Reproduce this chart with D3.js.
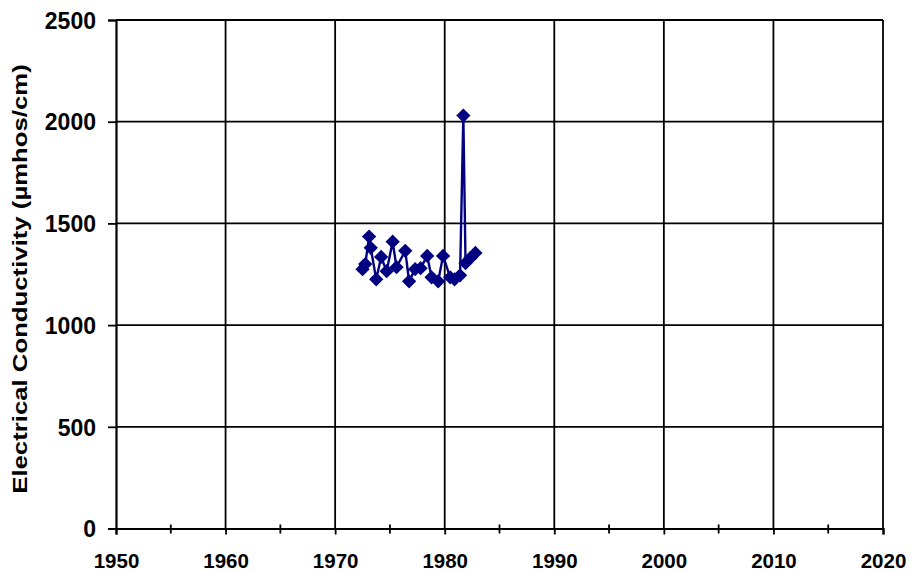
<!DOCTYPE html>
<html>
<head>
<meta charset="utf-8">
<script src="https://cdn.jsdelivr.net/npm/d3@7"></script>
<style>
  html, body { margin: 0; padding: 0; background: #fff; }
  svg text { font-family: Arial, "Liberation Sans", sans-serif; font-weight: bold; fill: #000; }
</style>
</head>
<body>
<svg id="chart" width="911" height="571"></svg>
<script>
// Sample dates (decimal years) and electrical conductivity readings
const years = [1972.5, 1972.75, 1973.1, 1973.25, 1973.75, 1974.2, 1974.7, 1975.25, 1975.6,
  1976.4, 1976.75, 1977.3, 1977.8, 1978.4, 1978.8, 1979.4, 1979.85, 1980.5, 1980.9,
  1981.4, 1981.7, 1981.9, 1982.35, 1982.8];
const conductivity = [1275, 1300, 1435, 1380, 1225, 1335, 1265, 1410, 1285,
  1365, 1215, 1275, 1280, 1340, 1235, 1215, 1340, 1235, 1225,
  1245, 2030, 1305, 1330, 1355];
const xTicks = [1950, 1960, 1970, 1980, 1990, 2000, 2010, 2020];
const xMinorTicks = [1955, 1965, 1975, 1985, 1995, 2005, 2015];
const yTicks = [0, 500, 1000, 1500, 2000, 2500];
const yLabel = "Electrical Conductivity (µmhos/cm)";

const data = years.map((y, i) => ({ year: y, value: conductivity[i] }));

const svg = d3.select("#chart");
const plotLeft = 116, plotRight = 883, plotTop = 20, plotBottom = 528.5;

const x = d3.scaleLinear().domain([1950, 2020]).range([plotLeft, plotRight]);
const y = d3.scaleLinear().domain([0, 2500]).range([plotBottom, plotTop]);

// Gridlines
svg.append("g").selectAll("line").data(yTicks.filter(d => d > 0)).join("line")
  .attr("x1", plotLeft).attr("x2", plotRight)
  .attr("y1", d => y(d)).attr("y2", d => y(d))
  .attr("stroke", "#000").attr("stroke-width", 1.8);
svg.append("g").selectAll("line").data(xTicks.filter(d => d > 1950)).join("line")
  .attr("x1", d => x(d)).attr("x2", d => x(d))
  .attr("y1", plotTop).attr("y2", plotBottom)
  .attr("stroke", "#000").attr("stroke-width", 1.8);

// Y axis
const yAxis = svg.append("g").attr("transform", `translate(${plotLeft},0)`)
  .call(d3.axisLeft(y).tickValues(yTicks).tickSize(8).tickPadding(12).tickFormat(d3.format("d")));
yAxis.select(".domain").attr("stroke", "#000").attr("stroke-width", 2.2);
yAxis.selectAll(".tick line").attr("stroke", "#000").attr("stroke-width", 1.8);
yAxis.selectAll(".tick text").style("font-size", "23px").attr("dy", "0.36em");

// X axis
const xAxis = svg.append("g").attr("transform", `translate(0,${plotBottom})`)
  .call(d3.axisBottom(x).tickValues(xTicks).tickSize(6).tickPadding(19).tickFormat(d3.format("d")));
xAxis.select(".domain").attr("stroke", "#000").attr("stroke-width", 2.2);
xAxis.selectAll(".tick line").attr("stroke", "#000").attr("stroke-width", 1.8);
xAxis.selectAll(".tick text").style("font-size", "20.5px");
svg.append("g").selectAll("line").data(xMinorTicks).join("line")
  .attr("x1", d => x(d)).attr("x2", d => x(d))
  .attr("y1", plotBottom - 4).attr("y2", plotBottom + 5)
  .attr("stroke", "#000").attr("stroke-width", 1.8);

// Y label, stretched along its length
svg.append("text")
  .attr("transform", "translate(27,279) rotate(-90) scale(1.32,1)")
  .attr("text-anchor", "middle")
  .style("font-size", "19.5px")
  .text(yLabel);

// Series line and diamond markers
svg.append("path").datum(data)
  .attr("fill", "none").attr("stroke", "#000080").attr("stroke-width", 2.4)
  .attr("d", d3.line().x(d => x(d.year)).y(d => y(d.value)));

const diamond = d3.symbol().type(d3.symbolDiamond2).size(130);
svg.append("g").selectAll("path").data(data).join("path")
  .attr("transform", d => `translate(${x(d.year)},${y(d.value)})`)
  .attr("d", diamond)
  .attr("fill", "#000080");
</script>
</body>
</html>
